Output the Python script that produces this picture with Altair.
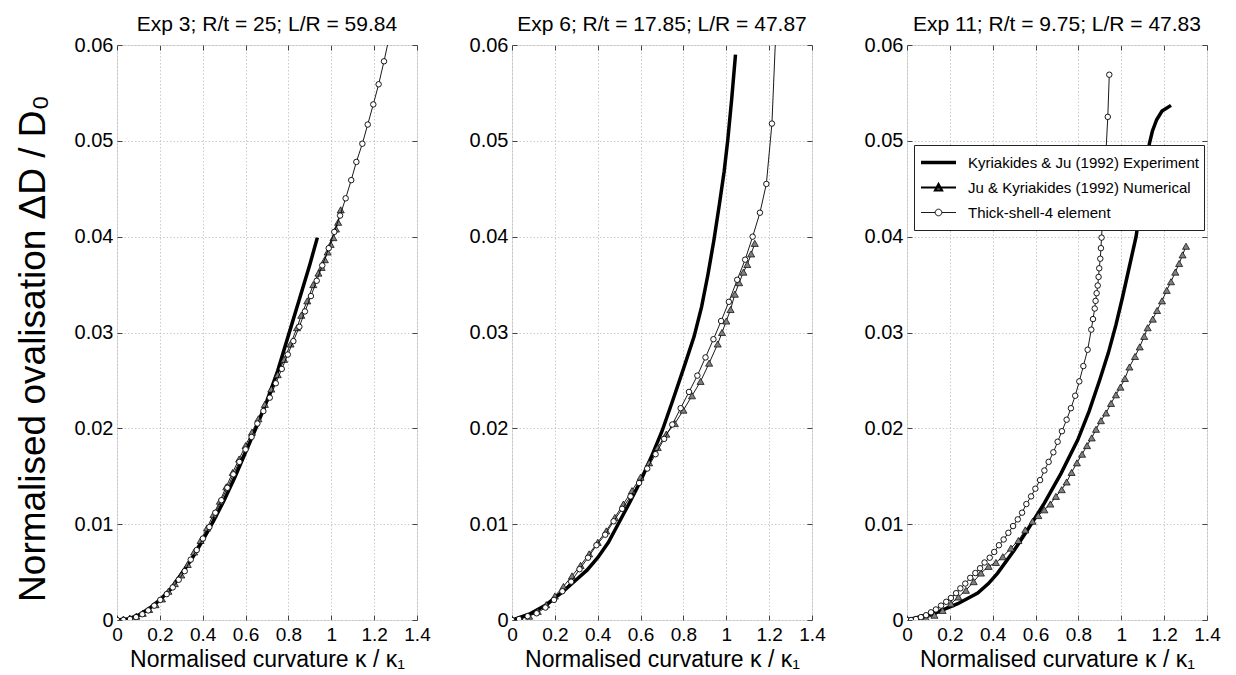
import altair as alt
import pandas as pd

SERIES = ["Kyriakides & Ju (1992) Experiment",
          "Ju & Kyriakides (1992) Numerical",
          "Thick-shell-4 element"]
TITLES = ["Exp 3; R/t = 25; L/R = 59.84",
          "Exp 6; R/t = 17.85; L/R = 47.87",
          "Exp 11; R/t = 9.75; L/R = 47.83"]
X_TICKS = [0, 0.2, 0.4, 0.6, 0.8, 1.0, 1.2, 1.4]
Y_TICKS = [0, 0.01, 0.02, 0.03, 0.04, 0.05, 0.06]
X_TITLE = "Normalised curvature κ / κ₁"
Y_TITLE = "Normalised ovalisation  ΔD / D₀"

# ---------------- Exp 3 ----------------
e3_exp_k = [0.000, 0.050, 0.100, 0.150, 0.200, 0.250, 0.300, 0.350, 0.400, 0.450,
            0.500, 0.550, 0.600, 0.650, 0.700, 0.750, 0.800, 0.850, 0.900, 0.935]
e3_exp_v = [0.0000, 0.0001, 0.0005, 0.0012, 0.0021, 0.0032, 0.0048, 0.0064, 0.0083, 0.0103,
            0.0125, 0.0149, 0.0175, 0.0201, 0.0229, 0.0260, 0.0297, 0.0334, 0.0371, 0.0399]
e3_num_k = [0.000, 0.030, 0.060, 0.090, 0.120, 0.150, 0.180, 0.210, 0.240, 0.270,
            0.300, 0.330, 0.360, 0.390, 0.420, 0.450, 0.480, 0.510, 0.540, 0.570,
            0.600, 0.630, 0.660, 0.690, 0.720, 0.750, 0.780, 0.810, 0.840, 0.860,
            0.888, 0.916, 0.940, 0.955, 0.970, 0.983, 0.997, 1.010, 1.022, 1.032, 1.044]
e3_num_v = [0.0000, 0.0001, 0.0002, 0.0004, 0.0007, 0.0011, 0.0016, 0.0022, 0.0030, 0.0038,
            0.0047, 0.0058, 0.0071, 0.0083, 0.0096, 0.0110, 0.0124, 0.0139, 0.0154, 0.0168,
            0.0182, 0.0196, 0.0210, 0.0225, 0.0241, 0.0256, 0.0272, 0.0288, 0.0305, 0.0318,
            0.0333, 0.0350, 0.0362, 0.0368, 0.0376, 0.0384, 0.0392, 0.0399, 0.0408, 0.0415, 0.0428]
e3_ts_k = [0.000, 0.030, 0.061, 0.089, 0.118, 0.146, 0.174, 0.202, 0.232, 0.260,
           0.288, 0.316, 0.344, 0.372, 0.401, 0.431, 0.459, 0.487, 0.515, 0.543,
           0.571, 0.600, 0.628, 0.655, 0.683, 0.713, 0.741, 0.769, 0.797, 0.823,
           0.851, 0.877, 0.905, 0.932, 0.958, 0.988, 1.014, 1.041, 1.067, 1.093,
           1.117, 1.145, 1.170, 1.196, 1.221, 1.246, 1.270]
e3_ts_v = [0.0000, 0.0000, 0.0001, 0.0003, 0.0006, 0.0010, 0.0015, 0.0021, 0.0027, 0.0034,
           0.0042, 0.0051, 0.0063, 0.0073, 0.0085, 0.0097, 0.0112, 0.0125, 0.0138, 0.0152,
           0.0165, 0.0178, 0.0191, 0.0205, 0.0218, 0.0232, 0.0247, 0.0262, 0.0277, 0.0291,
           0.0306, 0.0322, 0.0338, 0.0354, 0.0370, 0.0388, 0.0405, 0.0422, 0.0440, 0.0459,
           0.0478, 0.0497, 0.0517, 0.0538, 0.0559, 0.0583, 0.0608]

# ---------------- Exp 6 ----------------
e6_exp_k = [0.000, 0.080, 0.160, 0.240, 0.300, 0.350, 0.400, 0.450, 0.500, 0.550,
            0.600, 0.650, 0.700, 0.750, 0.800, 0.850, 0.885, 0.914, 0.942, 0.968,
            0.990, 1.007, 1.025, 1.043]
e6_exp_v = [0.0000, 0.0006, 0.0016, 0.0030, 0.0042, 0.0052, 0.0065, 0.0081, 0.0102, 0.0123,
            0.0145, 0.0170, 0.0197, 0.0229, 0.0262, 0.0296, 0.0327, 0.0360, 0.0396, 0.0434,
            0.0468, 0.0501, 0.0543, 0.0590]
e6_num_k = [0.000, 0.040, 0.080, 0.120, 0.160, 0.200, 0.240, 0.280, 0.320, 0.360,
            0.400, 0.440, 0.480, 0.520, 0.560, 0.600, 0.640, 0.680, 0.720, 0.760,
            0.800, 0.840, 0.880, 0.920, 0.960, 0.980, 1.000, 1.020, 1.040, 1.060,
            1.080, 1.098, 1.116, 1.133]
e6_num_v = [0.0000, 0.0001, 0.0004, 0.0009, 0.0016, 0.0025, 0.0035, 0.0046, 0.0057, 0.0069,
            0.0081, 0.0093, 0.0107, 0.0121, 0.0135, 0.0149, 0.0164, 0.0180, 0.0194, 0.0205,
            0.0219, 0.0234, 0.0249, 0.0268, 0.0288, 0.0300, 0.0312, 0.0324, 0.0340, 0.0352,
            0.0363, 0.0371, 0.0382, 0.0393]
e6_ts_k = [0.000, 0.033, 0.073, 0.115, 0.156, 0.196, 0.235, 0.276, 0.315, 0.355,
           0.394, 0.435, 0.474, 0.514, 0.553, 0.593, 0.631, 0.670, 0.710, 0.748,
           0.787, 0.826, 0.865, 0.903, 0.940, 0.976, 1.012, 1.051, 1.088, 1.123,
           1.157, 1.187, 1.213, 1.236]
e6_ts_v = [0.0000, 0.0001, 0.0004, 0.0007, 0.0013, 0.0021, 0.0030, 0.0040, 0.0053, 0.0065,
           0.0078, 0.0089, 0.0103, 0.0116, 0.0129, 0.0143, 0.0158, 0.0173, 0.0189, 0.0204,
           0.0221, 0.0238, 0.0255, 0.0274, 0.0293, 0.0312, 0.0332, 0.0355, 0.0376, 0.0400,
           0.0425, 0.0455, 0.0518, 0.0640]

# ---------------- Exp 11 ----------------
e11_exp_k = [0.000, 0.128, 0.237, 0.330, 0.380, 0.423, 0.501, 0.563, 0.641, 0.719,
             0.797, 0.850, 0.900, 0.940, 0.975, 1.005, 1.035, 1.069, 1.095, 1.131,
             1.145, 1.165, 1.190, 1.232]
e11_exp_v = [0.0000, 0.0007, 0.0017, 0.0028, 0.0038, 0.0049, 0.0073, 0.0094, 0.0122, 0.0153,
             0.0188, 0.0218, 0.0251, 0.0279, 0.0308, 0.0336, 0.0366, 0.0400, 0.0440, 0.0497,
             0.0510, 0.0522, 0.0531, 0.0537]
e11_num_k = [0.000, 0.045, 0.089, 0.128, 0.166, 0.205, 0.240, 0.275, 0.311, 0.345,
             0.381, 0.415, 0.447, 0.485, 0.520, 0.552, 0.586, 0.613, 0.641, 0.669,
             0.695, 0.722, 0.745, 0.768, 0.793, 0.817, 0.840, 0.862, 0.882, 0.905,
             0.929, 0.952, 0.975, 0.996, 1.017, 1.038, 1.064, 1.086, 1.107, 1.123,
             1.147, 1.167, 1.190, 1.212, 1.232, 1.252, 1.270, 1.286, 1.302]
e11_num_v = [0.0000, 0.0001, 0.0002, 0.0005, 0.0010, 0.0017, 0.0024, 0.0031, 0.0040, 0.0049,
             0.0056, 0.0060, 0.0066, 0.0075, 0.0083, 0.0094, 0.0103, 0.0109, 0.0115, 0.0121,
             0.0129, 0.0136, 0.0144, 0.0154, 0.0164, 0.0173, 0.0182, 0.0190, 0.0199, 0.0208,
             0.0216, 0.0226, 0.0235, 0.0243, 0.0252, 0.0264, 0.0275, 0.0285, 0.0296, 0.0305,
             0.0314, 0.0323, 0.0333, 0.0344, 0.0353, 0.0363, 0.0372, 0.0381, 0.0390]
e11_ts_k = [0.000, 0.019, 0.042, 0.065, 0.089, 0.112, 0.135, 0.159, 0.183, 0.205,
            0.229, 0.249, 0.272, 0.295, 0.319, 0.341, 0.362, 0.386, 0.407, 0.429,
            0.451, 0.473, 0.495, 0.517, 0.537, 0.557, 0.579, 0.599, 0.621, 0.641,
            0.661, 0.683, 0.703, 0.723, 0.745, 0.765, 0.785, 0.804, 0.823, 0.843,
            0.860, 0.868, 0.876, 0.880, 0.885, 0.890, 0.894, 0.897, 0.902, 0.905,
            0.908, 0.937, 0.944]
e11_ts_v = [0.0000, 0.0000, 0.0001, 0.0003, 0.0005, 0.0008, 0.0011, 0.0015, 0.0019, 0.0023,
            0.0028, 0.0033, 0.0038, 0.0044, 0.0049, 0.0054, 0.0060, 0.0065, 0.0071, 0.0078,
            0.0084, 0.0091, 0.0098, 0.0105, 0.0112, 0.0121, 0.0129, 0.0137, 0.0146, 0.0156,
            0.0165, 0.0175, 0.0186, 0.0197, 0.0209, 0.0221, 0.0234, 0.0249, 0.0265, 0.0282,
            0.0303, 0.0314, 0.0325, 0.0333, 0.0341, 0.0349, 0.0358, 0.0367, 0.0377, 0.0388,
            0.0399, 0.0525, 0.0569]

PANELS = [
    [(e3_exp_k, e3_exp_v), (e3_num_k, e3_num_v), (e3_ts_k, e3_ts_v)],
    [(e6_exp_k, e6_exp_v), (e6_num_k, e6_num_v), (e6_ts_k, e6_ts_v)],
    [(e11_exp_k, e11_exp_v), (e11_num_k, e11_num_v), (e11_ts_k, e11_ts_v)],
]

FONT = "Liberation Sans"
W, H = 300, 575

xs = alt.Scale(domain=[0, 1.4], nice=False, zero=False)
ys = alt.Scale(domain=[0, 0.06], nice=False, zero=False)

LEG_PATHS = [
    "M-1,0L1,0",
    "M-1,0L1,0M-0.2,0.17L0,-0.2L0.2,0.17Z",
    "M-1,0L-0.19,0M0.19,0L1,0M-0.19,0A0.19,0.19 0 1,1 0.19,0A0.19,0.19 0 1,1 -0.19,0Z",
]


def make_df(panel):
    rows = []
    for s, (ks, vs) in zip(SERIES, panel):
        for i, (k, v) in enumerate(zip(ks, vs)):
            rows.append({"s": s, "k": k, "v": v, "i": i})
    return pd.DataFrame(rows)


def make_panel(idx):
    df = make_df(PANELS[idx])
    base = alt.Chart(df)

    x_main = alt.X("k:Q", scale=xs, axis=alt.Axis(
        orient="bottom", values=X_TICKS, format=".1~f", grid=True,
        gridDash=[1.5, 2], gridColor="#bdbdbd", gridWidth=0.8,
        ticks=False, tickSize=0, domain=False, labelFlush=False, labelOverlap=False,
        labelFont=FONT, labelFontSize=19, labelColor="black", labelPadding=5,
        title=X_TITLE, titleFont=FONT, titleFontSize=23, titleFontWeight="normal",
        titleColor="black", titlePadding=4))
    y_main = alt.Y("v:Q", scale=ys, axis=alt.Axis(
        orient="left", values=Y_TICKS, format=".2~f", grid=True,
        gridDash=[1.5, 2], gridColor="#bdbdbd", gridWidth=0.8,
        ticks=False, tickSize=0, domain=False, labelFlush=False, labelOverlap=False,
        labelFont=FONT, labelFontSize=20, labelColor="black", labelPadding=4,
        title=(Y_TITLE if idx == 0 else None), titleFont=FONT, titleFontSize=37,
        titleFontWeight="normal", titleColor="black", titlePadding=22, titleY=303))
    x_tick = alt.X("k:Q", scale=xs, axis=alt.Axis(
        orient="top", values=X_TICKS, grid=True, gridDash=[5, H - 10],
        gridColor="#444444", gridWidth=1, labels=False, ticks=False, domain=False,
        title=None))
    y_tick = alt.Y("v:Q", scale=ys, axis=alt.Axis(
        orient="right", values=Y_TICKS, grid=True, gridDash=[5, W - 10],
        gridColor="#444444", gridWidth=1, labels=False, ticks=False, domain=False,
        title=None))
    x_none = alt.X("k:Q", scale=xs, axis=None)
    y_none = alt.Y("v:Q", scale=ys, axis=None)

    exp_line = base.transform_filter(alt.datum.s == SERIES[0]).mark_line(
        color="black", strokeWidth=3.5, clip=True).encode(x=x_main, y=y_main, order="i:Q")
    num_line = base.transform_filter(alt.datum.s == SERIES[1]).mark_line(
        color="black", strokeWidth=0.9, clip=True).encode(x=x_tick, y=y_tick, order="i:Q")
    num_pts = base.transform_filter(alt.datum.s == SERIES[1]).mark_point(
        shape="triangle-up", filled=True, fill="#7f7f7f", stroke="black",
        strokeWidth=0.7, size=50, opacity=1, clip=True).encode(x=x_none, y=y_none)
    ts_line = base.transform_filter(alt.datum.s == SERIES[2]).mark_line(
        color="black", strokeWidth=0.9, clip=True).encode(x=x_none, y=y_none, order="i:Q")
    ts_pts = base.transform_filter(alt.datum.s == SERIES[2]).mark_point(
        shape="circle", filled=True, fill="white", stroke="black",
        strokeWidth=0.9, size=30, opacity=1, clip=True).encode(x=x_none, y=y_none)

    layers = [exp_line, num_line, num_pts, ts_line, ts_pts]

    if idx == 2:
        leg = alt.Legend(
            orient="none", legendX=7, legendY=100, title=None,
            labelFont=FONT, labelFontSize=15, labelColor="black", labelOffset=10,
            symbolSize=1225, symbolStrokeColor="black", symbolOpacity=1,
            fillColor="white", strokeColor="#222222", padding=5,
            rowPadding=0, clipHeight=25, cornerRadius=0, labelLimit=400)
        leg_df = pd.DataFrame({"s": SERIES})
        legend_layer = alt.Chart(leg_df).mark_point(
            opacity=0, filled=True).encode(
            shape=alt.Shape("s:N", scale=alt.Scale(domain=SERIES, range=LEG_PATHS), legend=leg),
            fill=alt.Fill("s:N", scale=alt.Scale(domain=SERIES, range=["black", "#7f7f7f", "white"]), legend=leg),
            stroke=alt.Stroke("s:N", scale=alt.Scale(domain=SERIES, range=["black", "black", "black"]), legend=leg),
            strokeWidth=alt.StrokeWidth("s:N", scale=alt.Scale(domain=SERIES, range=[3.5, 0.9, 0.9]), legend=leg),
        )
        layers.append(legend_layer)

    return alt.layer(*layers).resolve_axis(x="independent", y="independent").properties(
        width=W, height=H,
        title=alt.TitleParams(TITLES[idx], font=FONT, fontSize=21, fontWeight="normal",
                              color="black", anchor="middle", offset=0))


chart = alt.hconcat(make_panel(0), make_panel(1), make_panel(2), spacing=95, bounds="flush").properties(
    padding={"left": 5, "top": 5, "right": 0, "bottom": 0}
).resolve_scale(shape="independent", fill="independent", stroke="independent",
                strokeWidth="independent"
).resolve_legend(shape="independent", fill="independent", stroke="independent",
                 strokeWidth="independent"
).configure_view(stroke="#444444", strokeWidth=1).configure(background="white")

chart.save("out.html", embed_options={"renderer": "svg", "actions": False})
